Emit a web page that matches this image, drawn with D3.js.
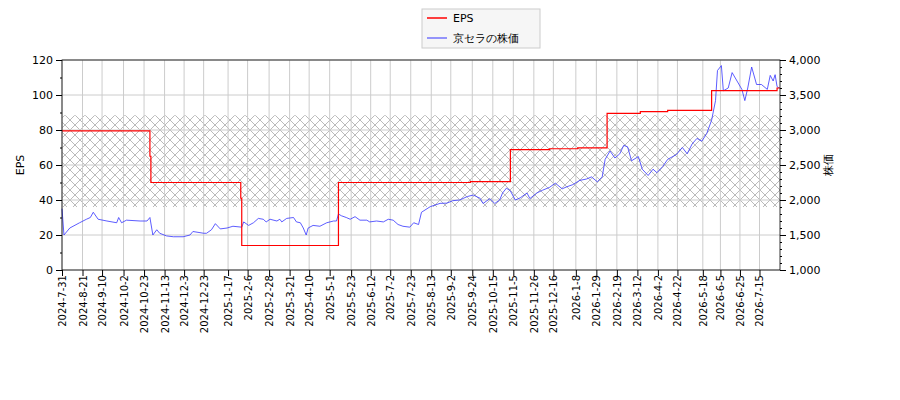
<!DOCTYPE html>
<html><head><meta charset="utf-8">
<script src="https://cdn.jsdelivr.net/npm/d3@7"></script>
<style>body{margin:0;background:#fff}text{font-family:"DejaVu Sans",sans-serif}</style>
</head><body><div id="chart"></div>
<script>
const startDate = "2024-07-31";
const tickLabels = ["2024-7-31","2024-8-21","2024-9-10","2024-10-2","2024-10-23","2024-11-13","2024-12-3","2024-12-23","2025-1-17","2025-2-6","2025-2-28","2025-3-21","2025-4-10","2025-5-1","2025-5-23","2025-6-12","2025-7-2","2025-7-23","2025-8-13","2025-9-2","2025-9-24","2025-10-15","2025-11-5","2025-11-26","2025-12-16","2026-1-8","2026-1-29","2026-2-19","2026-3-12","2026-4-2","2026-4-22","2026-5-18","2026-6-5","2026-6-25","2026-7-15"];
// EPS steps: day offset from start, value
const epsDays = [0, 90, 91, 183, 184, 283, 418, 459, 499, 528, 558, 592, 620, 665, 732, 735];
const epsValues = [79.5, 65, 50, 41, 14, 50, 50.5, 68.8, 69.3, 69.8, 89.5, 90.5, 91.2, 102.5, 104, 104];
// price: day offset, yen
const priceDays = [0,2,8,18,25,29,32,37,46,56,58,61,66,80,87,90,93,97,100,107,114,124,131,134,145,148,153,157,162,169,175,184,186,191,196,201,206,209,213,220,223,225,230,237,240,244,247,250,252,257,264,271,278,281,283,286,291,295,300,305,312,315,322,329,334,339,344,349,356,360,365,368,377,387,394,400,407,415,421,428,431,438,443,448,451,455,459,464,469,476,479,486,492,499,505,512,517,523,530,537,542,548,553,556,561,566,571,575,579,583,590,594,600,605,609,615,620,629,635,640,645,650,655,660,665,669,671,675,677,682,686,691,696,699,702,706,711,716,722,725,728,730,732,734];
const priceValues = [1875,1500,1600,1675,1725,1750,1825,1725,1700,1675,1750,1675,1712,1700,1700,1750,1500,1575,1525,1487,1475,1475,1500,1550,1525,1525,1575,1662,1587,1600,1625,1612,1687,1637,1675,1737,1725,1687,1725,1700,1725,1687,1737,1750,1687,1675,1600,1500,1600,1637,1625,1675,1700,1700,1800,1775,1750,1725,1762,1712,1712,1687,1700,1687,1725,1712,1650,1625,1612,1675,1650,1825,1905,1952,1955,1990,2000,2050,2071,2024,1950,2020,1950,2000,2100,2170,2130,2000,2030,2100,2020,2100,2140,2180,2240,2160,2190,2220,2280,2300,2330,2260,2330,2580,2700,2600,2660,2780,2760,2560,2620,2440,2350,2440,2390,2480,2580,2650,2750,2660,2800,2880,2840,2950,3140,3420,3850,3920,3560,3600,3820,3700,3580,3420,3600,3900,3650,3650,3580,3780,3700,3790,3620,3600];
const bandRange = [1900, 3210];
const domainDays = 735;

const parse = d3.timeParse("%Y-%m-%d");
const t0 = parse(startDate);
const dayToDate = d => d3.timeDay.offset(t0, d);
const W = 900, H = 400, mLeft = 62, mRight = 780, mTop = 60, mBottom = 270;

const svg = d3.select("#chart").append("svg").attr("width", W).attr("height", H);
const x = d3.scaleTime().domain([t0, dayToDate(domainDays)]).range([mLeft, mRight]);
const yL = d3.scaleLinear().domain([0, 120]).range([mBottom, mTop]);
const yR = d3.scaleLinear().domain([1000, 4000]).range([mBottom, mTop]);

const defs = svg.append("defs");
const pat = defs.append("pattern").attr("id", "hatch").attr("patternUnits", "userSpaceOnUse")
  .attr("width", 10).attr("height", 10);
pat.append("path").attr("d", "M0,0L10,10M10,0L0,10").attr("stroke", "#aaa").attr("stroke-width", 0.8);

svg.append("rect").attr("x", mLeft).attr("width", mRight - mLeft)
  .attr("y", yR(bandRange[1])).attr("height", yR(bandRange[0]) - yR(bandRange[1]))
  .attr("fill", "url(#hatch)");

const tickDates = tickLabels.map(s => d3.timeParse("%Y-%m-%d")(s.replace(/-(\d)(?=-|$)/g, "-0$1")));
svg.append("g").selectAll("line").data(tickDates).join("line")
  .attr("x1", d => x(d)).attr("x2", d => x(d)).attr("y1", mTop).attr("y2", mBottom)
  .attr("stroke", "#ccc");
svg.append("g").selectAll("line").data(d3.range(0, 121, 20)).join("line")
  .attr("x1", mLeft).attr("x2", mRight).attr("y1", d => yL(d)).attr("y2", d => yL(d))
  .attr("stroke", "#ccc");

svg.append("path").datum(priceDays.map((d, i) => [d, priceValues[i]]))
  .attr("fill", "none").attr("stroke", "#3333ff").attr("stroke-width", 0.8)
  .attr("d", d3.line().x(d => x(dayToDate(d[0]))).y(d => yR(d[1])));
svg.append("path").datum(epsDays.map((d, i) => [d, epsValues[i]]))
  .attr("fill", "none").attr("stroke", "#ff0000").attr("stroke-width", 1.2)
  .attr("d", d3.line().curve(d3.curveStepAfter).x(d => x(dayToDate(d[0]))).y(d => yL(d[1])));

svg.append("rect").attr("x", mLeft).attr("y", mTop).attr("width", mRight - mLeft).attr("height", mBottom - mTop)
  .attr("fill", "none").attr("stroke", "#000").attr("stroke-width", 0.8);

const fmt = d => `${d.getFullYear()}-${d.getMonth() + 1}-${d.getDate()}`;
const xAxis = svg.append("g").attr("transform", `translate(0,${mBottom})`)
  .call(d3.axisBottom(x).tickValues(tickDates).tickFormat(fmt).tickSizeOuter(0));
xAxis.selectAll("text").attr("transform", "rotate(-90)").attr("text-anchor", "end")
  .attr("x", -5).attr("y", 0).attr("dy", "0.35em").style("font-size", "10px");

const lAxis = svg.append("g").attr("transform", `translate(${mLeft},0)`)
  .call(d3.axisLeft(yL).tickValues(d3.range(0, 121, 20)).tickSizeOuter(0));
svg.append("g").attr("transform", `translate(${mLeft},0)`)
  .call(d3.axisLeft(yL).tickValues(d3.range(0, 121, 10)).tickSize(2).tickFormat("").tickSizeOuter(0));
const rAxis = svg.append("g").attr("transform", `translate(${mRight},0)`)
  .call(d3.axisRight(yR).tickValues(d3.range(1000, 4001, 500)).tickSizeOuter(0));
svg.append("g").attr("transform", `translate(${mRight},0)`)
  .call(d3.axisRight(yR).tickValues(d3.range(1000, 4001, 100)).tickSize(2).tickFormat("").tickSizeOuter(0));
svg.selectAll(".domain").remove();
[lAxis, rAxis].forEach(a => a.selectAll("text").style("font-size", "11px"));

svg.append("text").attr("transform", "translate(24,165) rotate(-90)").attr("text-anchor", "middle")
  .style("font-size", "11px").text("EPS");
svg.append("text").attr("transform", "translate(832,165) rotate(-90)").attr("text-anchor", "middle")
  .style("font-size", "11px").text("株価");

const lg = svg.append("g").attr("transform", "translate(422,9)");
lg.append("rect").attr("width", 118).attr("height", 39).attr("fill", "#f6f6f6").attr("stroke", "#ccc");
const items = [["EPS", "#ff0000"], ["京セラの株価", "#3333ff"]];
items.forEach((it, i) => {
  lg.append("line").attr("x1", 5).attr("x2", 25).attr("y1", 9 + i * 20).attr("y2", 9 + i * 20)
    .attr("stroke", it[1]).attr("stroke-width", i ? 1 : 1.5);
  lg.append("text").attr("x", 31).attr("y", 13 + i * 20).style("font-size", "11px").text(it[0]);
});
</script></body></html>
